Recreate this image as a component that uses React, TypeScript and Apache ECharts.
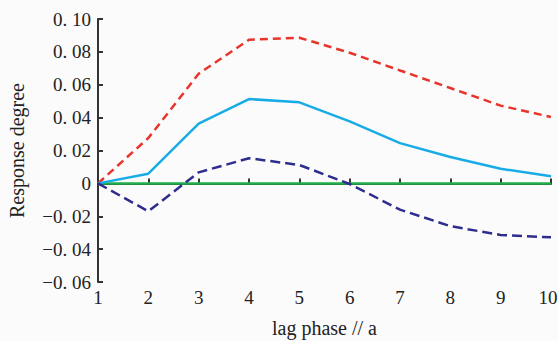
import React, { useEffect, useRef } from "react";
import * as echarts from "echarts";

const lags = [1, 2, 3, 4, 5, 6, 7, 8, 9, 10];
const upperBand = [0, 0.0276, 0.0667, 0.0874, 0.0886, 0.0795, 0.0687, 0.058, 0.0473, 0.0404];
const response = [0, 0.0059, 0.0363, 0.0513, 0.0493, 0.0377, 0.0245, 0.016, 0.0089, 0.0043];
const lowerBand = [0, -0.017, 0.0067, 0.0153, 0.0112, -0.0004, -0.016, -0.026, -0.0314, -0.0328];
const zeroLine = [0, 0, 0, 0, 0, 0, 0, 0, 0, 0];

const pairs = (ys: number[]) => lags.map((x, i) => [x, ys[i]]);

const fmtY = (v: number) => {
  if (Math.abs(v) < 1e-9) return "0";
  const s = Math.abs(v).toFixed(2).replace(".", ". ");
  return (v < 0 ? "\u2212" : "") + s;
};

const fmtX = (v: number) => (v === lags[lags.length - 1] ? `{last|${v}}` : `${v}`);

export default function App() {
  const ref = useRef<HTMLDivElement>(null);
  useEffect(() => {
    const chart = echarts.init(ref.current!, undefined, { renderer: "svg" });
    const font = "'Liberation Serif', 'DejaVu Serif', serif";
    const axisColor = "#333";
    chart.setOption({
      animation: false,
      backgroundColor: "#fbfbfb",
      grid: { left: 98, right: 7, top: 19, bottom: 59, outerBoundsMode: "none", containLabel: false },
      xAxis: {
        type: "value",
        min: 1,
        max: 10,
        interval: 1,
        name: "lag phase // a",
        nameLocation: "middle",
        nameGap: 36,
        nameTextStyle: { fontFamily: font, fontSize: 20, color: "#222" },
        axisLine: { show: true, lineStyle: { color: axisColor, width: 2 } },
        axisTick: { show: true, inside: true, length: 5, lineStyle: { color: axisColor, width: 2 } },
        axisLabel: {
          fontFamily: font,
          fontSize: 19,
          color: "#222",
          margin: 6,
          formatter: fmtX,
          rich: { last: { fontFamily: font, fontSize: 19, color: "#222", padding: [0, 6, 0, 0] } },
        },
        splitLine: { show: false },
      },
      yAxis: {
        type: "value",
        min: -0.06,
        max: 0.1,
        interval: 0.02,
        name: "Response degree",
        nameLocation: "middle",
        nameGap: 71,
        nameRotate: 90,
        nameTextStyle: { fontFamily: font, fontSize: 20, color: "#222" },
        axisLine: { show: true, lineStyle: { color: axisColor, width: 2 } },
        axisTick: { show: true, inside: true, length: 5, lineStyle: { color: axisColor, width: 2 } },
        axisLabel: { fontFamily: font, fontSize: 19, color: "#222", margin: 7, formatter: fmtY },
        splitLine: { show: false },
      },
      series: [
        {
          type: "line",
          data: pairs(zeroLine),
          symbol: "none",
          lineStyle: { color: "#1fae4a", width: 2.5 },
          z: 2,
        },
        {
          type: "line",
          data: pairs(upperBand),
          symbol: "none",
          lineStyle: { color: "#e8352c", width: 2.5, type: [8, 5] },
          z: 3,
        },
        {
          type: "line",
          data: pairs(response),
          symbol: "none",
          lineStyle: { color: "#18ace6", width: 2.5 },
          z: 3,
        },
        {
          type: "line",
          data: pairs(lowerBand),
          symbol: "none",
          lineStyle: { color: "#2e2d8e", width: 2.5, type: [10, 5] },
          z: 3,
        },
      ],
    });
    return () => chart.dispose();
  }, []);
  return (
    <div
      ref={ref}
      style={{ position: "fixed", left: 0, top: 0, width: 558, height: 341 }}
    />
  );
}
